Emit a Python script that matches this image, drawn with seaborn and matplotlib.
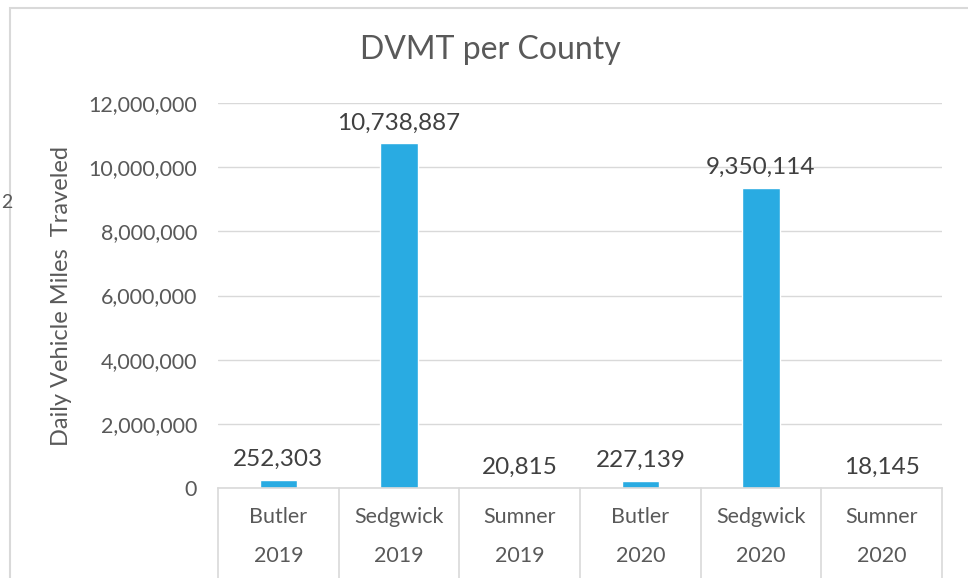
import numpy as np
import pandas as pd
import matplotlib.pyplot as plt
import seaborn as sns
from matplotlib.lines import Line2D
from matplotlib.patches import Rectangle

# =====================================================
# Data
# =====================================================
counties = ["Butler", "Sedgwick", "Sumner", "Butler", "Sedgwick", "Sumner"]
years = ["2019", "2019", "2019", "2020", "2020", "2020"]
dvmt = [252303, 10738887, 20815, 227139, 9350114, 18145]

df = pd.DataFrame({"County": counties, "Year": years, "DVMT": dvmt})
df["Key"] = df["County"] + " " + df["Year"]

grey = "#595959"
line_grey = "#D9D9D9"
bar_color = "#29ABE2"

sns.set_theme(style="white")
plt.rcParams["font.family"] = ["Lato", "DejaVu Sans"]

fig = plt.figure(figsize=(9.68, 5.78), dpi=100)
ax = fig.add_axes([218 / 968, 90 / 578, 724 / 968, 385 / 578])

sns.barplot(data=df, x="Key", y="DVMT", color=bar_color, width=0.31,
            saturation=1, ax=ax)

# y axis
ax.set_ylim(0, 12000000)
ax.set_yticks(np.arange(0, 12000001, 2000000))
ax.yaxis.set_major_formatter(plt.FuncFormatter(lambda v, p: f"{int(v):,}"))
ax.tick_params(axis="y", labelsize=15.5, labelcolor=grey, length=0, pad=15)
ax.grid(axis="y", color=line_grey, linewidth=1)
ax.set_axisbelow(True)
ax.set_ylabel("Daily Vehicle Miles  Traveled", fontsize=17, color=grey, labelpad=12)
ax.set_xlabel("")

for side in ["top", "right", "left"]:
    ax.spines[side].set_visible(False)
ax.spines["bottom"].set_color(line_grey)
ax.spines["bottom"].set_linewidth(1.2)

# two-level category axis
ax.set_xticks(range(len(df)))
ax.set_xticklabels([])
ax.tick_params(axis="x", length=0)
xt = ax.get_xaxis_transform()
for i, row in df.iterrows():
    ax.text(i, -0.075, row["County"], transform=xt, ha="center", va="center",
            fontsize=15.5, color=grey)
    ax.text(i, -0.177, row["Year"], transform=xt, ha="center", va="center",
            fontsize=15.5, color=grey)
for b in np.arange(-0.5, len(df), 1.0):
    ax.add_line(Line2D([b, b], [0, -0.3], transform=xt, color=line_grey,
                       linewidth=1.2, clip_on=False))

# value labels
for i, v in enumerate(df["DVMT"]):
    ax.annotate(f"{v:,}", (i, v), xytext=(0, 7), textcoords="offset points",
                ha="center", va="bottom", fontsize=17.5, color="#404040")

# title
fig.text(490 / 968, 1 - 50 / 578, "DVMT per County", ha="center", va="center",
         fontsize=23, color=grey)

# chart border and stray label
fig.add_artist(Rectangle((10 / 968, -0.05), 1.0, 1 - 8 / 578 + 0.05,
                         transform=fig.transFigure, fill=False,
                         edgecolor=line_grey, linewidth=1.5))
fig.text(1 / 968, 1 - 203 / 578, "2", ha="left", va="center",
         fontsize=14, color=grey)

plt.savefig("out.png", dpi=100)
plt.close()
